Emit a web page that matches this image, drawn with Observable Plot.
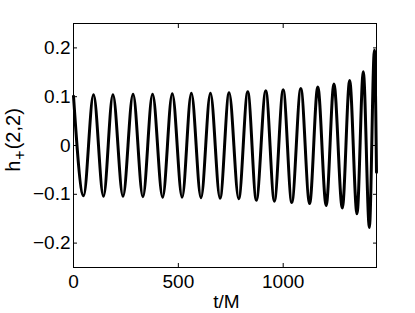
<!DOCTYPE html>
<html><head><meta charset="utf-8">
<script src="https://cdn.jsdelivr.net/npm/d3@7"></script>
<script src="https://cdn.jsdelivr.net/npm/@observablehq/plot@0.6"></script>
<style>body{margin:0;background:#fff}</style>
</head><body><div id="chart"></div>
<script>
// extrema of the waveform (peaks and troughs)
const tValues = [0, 48, 95.5, 143, 188, 236, 284, 331, 377, 425, 471, 518, 562, 608, 653, 699, 742, 788, 831, 872, 917, 958, 1000, 1041, 1084, 1126, 1165, 1205, 1242, 1282, 1317, 1352, 1382, 1411, 1435, 1445];
const hValues = [0.101, -0.103, 0.104, -0.104, 0.104, -0.104, 0.105, -0.105, 0.105, -0.106, 0.106, -0.106, 0.107, -0.107, 0.107, -0.108, 0.108, -0.109, 0.110, -0.112, 0.112, -0.114, 0.114, -0.117, 0.117, -0.119, 0.120, -0.123, 0.126, -0.128, 0.133, -0.140, 0.151, -0.168, 0.195, -0.055];
const xTicks = [0, 500, 1000];
const yTicks = [-0.2, -0.1, 0, 0.1, 0.2];
const xDomain = [0, 1445];
const yDomain = [-0.25, 0.25];
const xLabel = "t/M";
const yLabelMain = "h", yLabelSub = "+", yLabelTail = "(2,2)";

const data = tValues.map((t, i) => ({t, h: hValues[i]}));
const fmtY = d => d === 0 ? "0" : d3.format(".1f")(d);
const W = 415, H = 313, mL = 73, mR = 39, mT = 23, mB = 46;

const plot = Plot.plot({
  width: W, height: H, marginLeft: mL, marginRight: mR, marginTop: mT, marginBottom: mB,
  style: {fontFamily: "'Liberation Sans', Arial, sans-serif", fontSize: "19px", background: "#fff", color: "#000", overflow: "visible"},
  x: {domain: xDomain},
  y: {domain: yDomain},
  marks: [
    Plot.line(data, {x: "t", y: "h", stroke: "#000", strokeWidth: 3, curve: "monotone-x"}),
    Plot.frame({stroke: "#000"}),
    Plot.axisX({ticks: xTicks, anchor: "bottom", tickSize: 0, tickPadding: 7, tickFormat: d => String(d), label: null}),
    Plot.axisX({ticks: xTicks, anchor: "bottom", tickSize: -4, tickFormat: () => "", label: null}),
    Plot.axisX({ticks: xTicks, anchor: "top", tickSize: -4, tickFormat: () => "", label: null}),
    Plot.axisY({ticks: yTicks, anchor: "left", tickSize: 0, tickPadding: 3, tickFormat: fmtY, label: null}),
    Plot.axisY({ticks: yTicks, anchor: "left", tickSize: -4, tickFormat: () => "", label: null}),
    Plot.axisY({ticks: yTicks, anchor: "right", tickSize: -4, tickFormat: () => "", label: null})
  ]
});

const svg = d3.select(plot);
svg.append("text")
  .attr("x", (mL + W - mR) / 2 + 2).attr("y", 308)
  .attr("text-anchor", "middle").attr("font-size", 19).attr("fill", "#000")
  .text(xLabel);
const yl = svg.append("text")
  .attr("transform", `translate(20,140) rotate(-90)`)
  .attr("text-anchor", "middle").attr("font-size", 20).attr("fill", "#000");
yl.append("tspan").text(yLabelMain);
yl.append("tspan").attr("font-size", 16).attr("dy", 5).attr("dx", 1).text(yLabelSub);
yl.append("tspan").attr("dy", -5).attr("dx", 1).text(yLabelTail);

document.getElementById("chart").appendChild(plot);
</script>
</body></html>
